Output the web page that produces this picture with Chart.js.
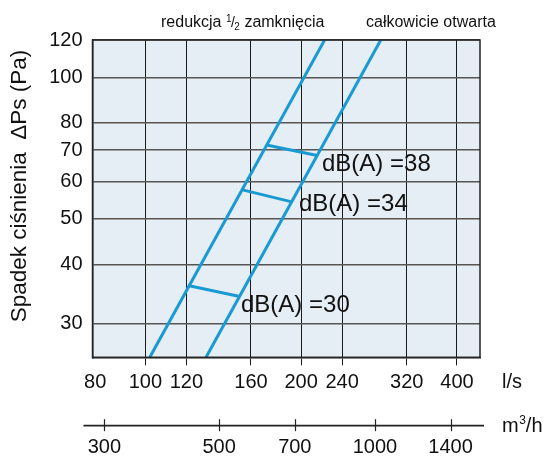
<!DOCTYPE html>
<html><head><meta charset="utf-8">
<script src="https://cdn.jsdelivr.net/npm/chart.js@4.4.0/dist/chart.umd.min.js"></script>
<style>html,body{margin:0;padding:0;background:#fff}canvas{display:block}</style>
</head><body>
<canvas id="c" width="552" height="459"></canvas>
<script>
// ---- data ----
const flowTicks = [80, 100, 120, 160, 200, 240, 320, 400];      // l/s
const pressureTicks = [30, 40, 50, 60, 70, 80, 100, 120];       // Pa
const m3hTicks = [300, 500, 700, 1000, 1400];                   // m3/h
const halfClosedFlow = [102, 222];
const halfClosedPa = [25.4, 120];
const openFlow = [131, 285];
const openPa = [25.4, 120];
const dbLabels = ['dB(A) =30', 'dB(A) =34', 'dB(A) =38'];
const dbFlowHalf = [120.9, 153.4, 171.5];
const dbPaHalf = [36.1, 57.7, 71.8];
const dbFlowOpen = [152.2, 191.0, 214.8];
const dbPaOpen = [34.2, 54.4, 68.2];
const curveTitles = ['redukcja ', ' zamknięcia', 'całkowicie otwarta'];
const yTitle = 'Spadek ciśnienia  ΔPs (Pa)';
const xUnit = 'l/s';

const FLOW_MIN = 79.05, FLOW_MAX = 443.2, LS_TO_M3H = 3.6;
const FONT = '"Liberation Sans", Arial, Helvetica, sans-serif';
const BLUE = '#1a9ad2';

const toPts = (xs, ys) => xs.map((x, i) => ({x, y: ys[i]}));
const datasets = [
  {data: toPts(halfClosedFlow, halfClosedPa)},
  {data: toPts(openFlow, openPa)},
];
dbLabels.forEach((l, i) => datasets.push({
  data: [{x: dbFlowHalf[i], y: dbPaHalf[i]}, {x: dbFlowOpen[i], y: dbPaOpen[i]}]
}));
datasets.forEach(d => Object.assign(d, {
  showLine: true, borderColor: BLUE, borderWidth: 3, pointRadius: 0, fill: false, borderCapStyle: 'butt'
}));

const labelPos = [{x: 241, y: 305}, {x: 299, y: 204}, {x: 322, y: 164}];

const decor = {
  id: 'decor',
  beforeDraw(chart) {
    const {ctx, chartArea: a} = chart;
    ctx.save();
    ctx.fillStyle = '#e6eef5';
    ctx.fillRect(a.left, a.top, a.right - a.left, a.bottom - a.top);
    ctx.restore();
  },
  afterDatasetsDraw(chart) {
    const {ctx, chartArea: a} = chart;
    ctx.save();
    ctx.strokeStyle = '#222';
    ctx.lineWidth = 1.5;
    ctx.strokeRect(a.left, a.top, a.right - a.left, a.bottom - a.top);
    ctx.restore();
  },
  afterDraw(chart) {
    const {ctx, chartArea: a} = chart;
    const x2 = chart.scales.x2;
    ctx.save();
    ctx.fillStyle = '#111';
    // top curve titles
    ctx.textBaseline = 'alphabetic';
    ctx.textAlign = 'left';
    let x = 161;
    ctx.font = '16px ' + FONT;
    ctx.fillText(curveTitles[0], x, 27);
    x += ctx.measureText(curveTitles[0]).width;
    ctx.font = '10px ' + FONT;
    ctx.fillText('1', x, 22);
    x += ctx.measureText('1').width;
    ctx.font = '14px ' + FONT;
    ctx.fillText('/', x - 0.5, 27);
    x += ctx.measureText('/').width - 1;
    ctx.font = '10px ' + FONT;
    ctx.fillText('2', x, 30);
    x += ctx.measureText('2').width;
    ctx.font = '16px ' + FONT;
    ctx.fillText(curveTitles[1], x, 27);
    ctx.fillText(curveTitles[2], 366, 27);

    // y title
    ctx.save();
    ctx.translate(20, 186);
    ctx.rotate(-Math.PI / 2);
    ctx.textAlign = 'center';
    ctx.textBaseline = 'middle';
    ctx.font = '22.5px ' + FONT;
    ctx.fillText(yTitle, 0, 0);
    ctx.restore();

    // dB labels
    ctx.font = '24px ' + FONT;
    ctx.textBaseline = 'middle';
    ctx.textAlign = 'left';
    dbLabels.forEach((l, i) => ctx.fillText(l, labelPos[i].x, labelPos[i].y));

    // units
    ctx.font = '20px ' + FONT;
    ctx.fillText(xUnit, 502, 382);
    ctx.textBaseline = 'alphabetic';
    let ux = 502;
    ctx.fillText('m', ux, 432);
    ux += ctx.measureText('m').width + 0.5;
    ctx.font = '12px ' + FONT;
    ctx.fillText('3', ux, 424);
    ux += ctx.measureText('3').width;
    ctx.font = '20px ' + FONT;
    ctx.fillText('/h', ux, 432);

    // m3/h axis line and ticks
    const ly = 425.7;
    ctx.strokeStyle = '#222';
    ctx.lineWidth = 1.8;
    ctx.beginPath();
    ctx.moveTo(a.left - 9, ly);
    ctx.lineTo(a.right + 4, ly);
    ctx.stroke();
    ctx.lineWidth = 1.2;
    m3hTicks.forEach(v => {
      const px = Math.round(x2.getPixelForValue(v)) + 0.5;
      ctx.beginPath();
      ctx.moveTo(px, ly - 6.5);
      ctx.lineTo(px, ly + 5.5);
      ctx.stroke();
    });
    ctx.restore();
  }
};

new Chart(document.getElementById('c'), {
  type: 'scatter',
  data: {datasets},
  options: {
    responsive: false,
    animation: false,
    devicePixelRatio: 1,
    layout: {padding: {top: 40, right: 72, left: 0, bottom: 0}},
    plugins: {legend: {display: false}, tooltip: {enabled: false}},
    scales: {
      x: {
        type: 'logarithmic', position: 'bottom', weight: 0,
        min: FLOW_MIN, max: FLOW_MAX,
        afterBuildTicks: s => { s.ticks = flowTicks.map(v => ({value: v})); },
        afterFit: s => { s.height = 50; },
        ticks: {
          callback: v => String(v), autoSkip: false, maxRotation: 0, minRotation: 0,
          font: {size: 20, family: FONT}, color: '#111', padding: 5
        },
        grid: {
          color: c => (c.index === 0 ? 'rgba(0,0,0,0)' : '#1a1a1a'),
          lineWidth: 1, tickLength: 8, drawTicks: true
        },
        border: {display: true, color: '#222', width: 1.5}
      },
      x2: {
        type: 'logarithmic', position: 'bottom', weight: 1,
        min: FLOW_MIN * LS_TO_M3H, max: FLOW_MAX * LS_TO_M3H,
        afterBuildTicks: s => { s.ticks = m3hTicks.map(v => ({value: v})); },
        afterFit: s => { s.height = 51.7; },
        ticks: {
          callback: v => String(v), autoSkip: false, maxRotation: 0, minRotation: 0,
          font: {size: 20, family: FONT}, color: '#111', padding: 28
        },
        grid: {display: false, drawTicks: false},
        border: {display: false}
      },
      y: {
        type: 'logarithmic', position: 'left',
        min: 25.4, max: 120,
        afterBuildTicks: s => { s.ticks = pressureTicks.map(v => ({value: v})); },
        afterFit: s => { s.width = 92.5; },
        ticks: {
          callback: v => String(v), autoSkip: false,
          font: {size: 20, family: FONT}, color: '#111', padding: 10
        },
        grid: {color: '#555', lineWidth: 1.5, drawTicks: false},
        border: {display: true, color: '#222', width: 1.5}
      }
    }
  },
  plugins: [decor]
});
</script>
</body></html>
